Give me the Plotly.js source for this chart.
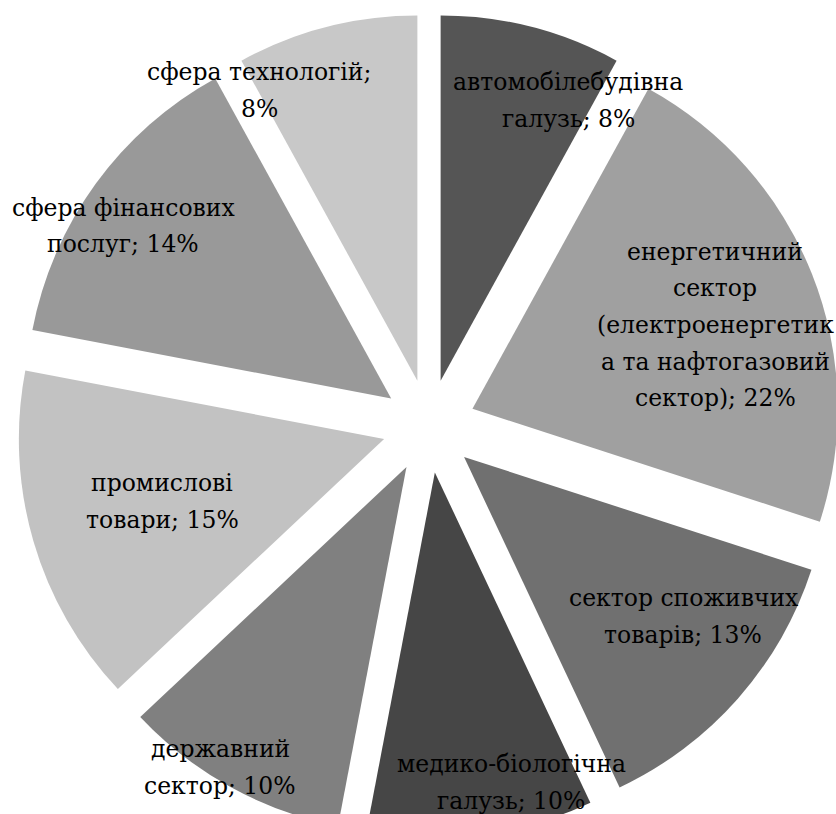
<!DOCTYPE html>
<html>
<head>
<meta charset="utf-8">
<script src="https://cdn.plot.ly/plotly-3.0.1.min.js"></script>
<style>
  html, body { margin: 0; padding: 0; background: #ffffff; overflow: hidden; }
  #chart { width: 842px; height: 838px; }
</style>
</head>
<body>
<div id="chart"></div>
<script>
// Sector shares, clockwise from 12 o'clock
const sectors = [
  "автомобілебудівна галузь",
  "енергетичний сектор (електроенергетика та нафтогазовий сектор)",
  "сектор споживчих товарів",
  "медико-біологічна галузь",
  "державний сектор",
  "промислові товари",
  "сфера фінансових послуг",
  "сфера технологій"
];
const shares = [8, 22, 13, 10, 10, 15, 14, 8];

// Label text split into printed lines; the share is appended to the last line
const labelLines = [
  ["автомобілебудівна", "галузь;"],
  ["енергетичний", "сектор", "(електроенергетик", "а та нафтогазовий", "сектор);"],
  ["сектор споживчих", "товарів;"],
  ["медико-біологічна", "галузь;"],
  ["державний", "сектор;"],
  ["промислові", "товари;"],
  ["сфера фінансових", "послуг;"],
  ["сфера технологій;", ""]
];

const sliceColors = ["#555555", "#a0a0a0", "#707070", "#464646",
                     "#808080", "#c2c2c2", "#999999", "#c8c8c8"];

// Centre of the first line of each label, in page pixels
const labelAt = [
  [568, 82], [715, 252], [683, 598], [511, 764],
  [220, 749], [162, 483], [123, 208], [259, 72]
];
const lineStep = 36.5;

const W = 842, H = 838;
const M = { l: 16, r: 0, t: 14, b: 0 };
const labelFont = { family: "DejaVu Serif", size: 23.5, color: "#000000" };

// page pixels -> paper fractions (paper spans the area inside the margins)
const toPaperX = px => (px - M.l) / (W - M.l - M.r);
const toPaperY = py => 1 - (py - M.t) / (H - M.t - M.b);

function linesFor(i) {
  const lines = labelLines[i].slice();
  const last = lines.length - 1;
  lines[last] = (lines[last] ? lines[last] + " " : "") + shares[i] + "%";
  return lines;
}

const annotations = [];
shares.forEach((v, i) => {
  linesFor(i).forEach((txt, k) => {
    annotations.push({
      xref: "paper", yref: "paper",
      x: toPaperX(labelAt[i][0]),
      y: toPaperY(labelAt[i][1] + k * lineStep),
      xanchor: "center", yanchor: "middle",
      text: txt,
      showarrow: false,
      font: labelFont
    });
  });
});

const trace = {
  type: "pie",
  labels: sectors,
  values: shares,
  sort: false,
  direction: "clockwise",
  rotation: 0,
  pull: shares.map(() => 0.128),
  marker: { colors: sliceColors, line: { width: 0 } },
  textinfo: "none",
  hoverinfo: "label+percent",
  showlegend: false
};

const layout = {
  width: W, height: H,
  margin: M,
  paper_bgcolor: "#ffffff",
  plot_bgcolor: "#ffffff",
  showlegend: false,
  annotations: annotations
};

Plotly.newPlot("chart", [trace], layout, { displayModeBar: false, staticPlot: true });
</script>
</body>
</html>
